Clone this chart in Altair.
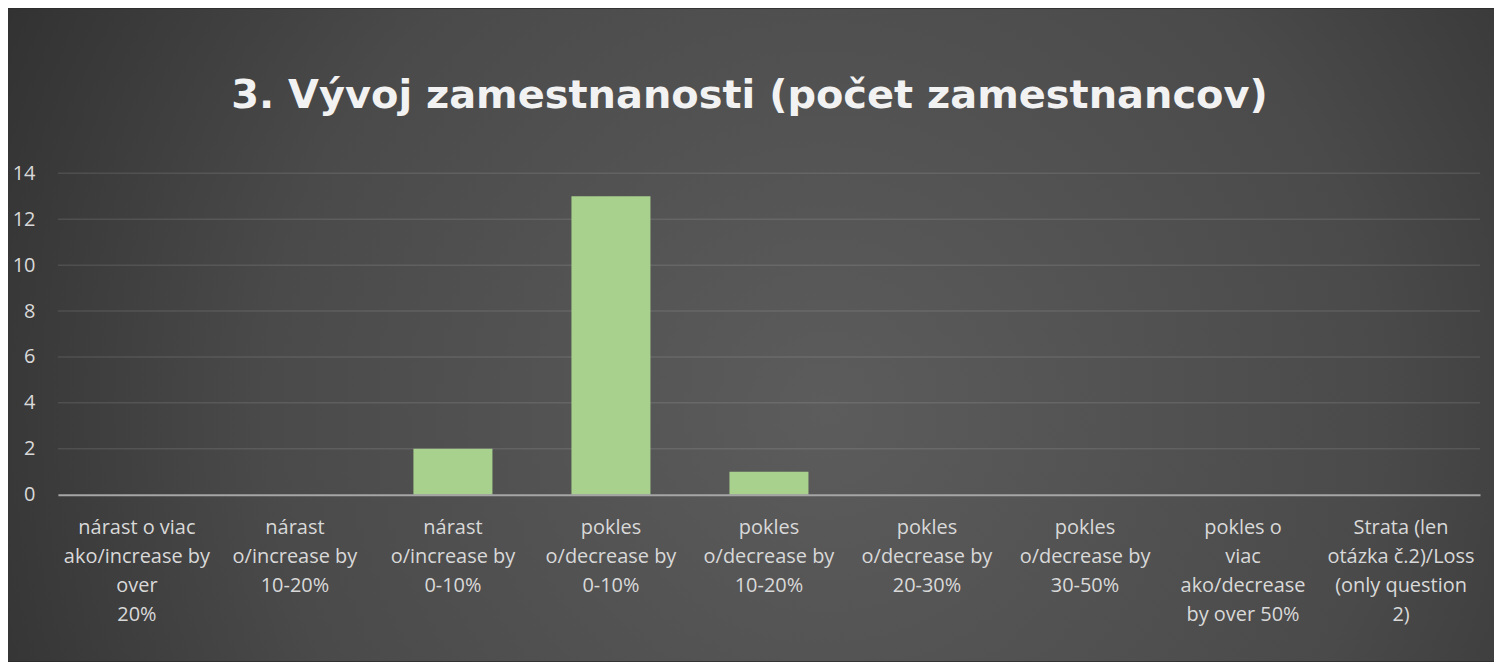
import altair as alt
import pandas as pd

categories = [
    "nárast o viac\nako/increase by\nover\n20%",
    "nárast\no/increase by\n10-20%",
    "nárast\no/increase by\n0-10%",
    "pokles\no/decrease by\n0-10%",
    "pokles\no/decrease by\n10-20%",
    "pokles\no/decrease by\n20-30%",
    "pokles\no/decrease by\n30-50%",
    "pokles o\nviac\nako/decrease\nby over 50%",
    "Strata (len\notázka č.2)/Loss\n(only question\n2)",
]
values = [0, 0, 2, 13, 1, 0, 0, 0, 0]
grid_values = [2, 4, 6, 8, 10, 12, 14]
title_text = "3. Vývoj zamestnanosti (počet zamestnancov)"

W, H = 1425, 322
PL, PT, PR, PB = 50, 165, 14, 167

bars_df = pd.DataFrame({"category": categories, "value": values})
grid_df = pd.DataFrame({"value": grid_values})
bg_df = pd.DataFrame({"bg": [0]})
title_df = pd.DataFrame({"t": [title_text]})

y_scale = alt.Scale(domain=[0, 14])

background = alt.Chart(bg_df).mark_rect(
    fill={
        "gradient": "radial",
        "x1": 0.55, "y1": 0.55, "r1": 0,
        "x2": 0.55, "y2": 0.55, "r2": 0.75,
        "stops": [
            {"offset": 0, "color": "#5c5c5c"},
            {"offset": 0.5, "color": "#4a4a4a"},
            {"offset": 1, "color": "#242424"},
        ],
    }
).encode(
    x=alt.value(-PL), x2=alt.value(W + PR),
    y=alt.value(-PT), y2=alt.value(H + PB),
)

title = alt.Chart(title_df).mark_text(
    font="DejaVu Sans",
    fontSize=40,
    fontWeight="bold",
    color="#f2f2f2",
    align="center",
    baseline="alphabetic",
).encode(
    text="t:N",
    x=alt.value(693),
    y=alt.value(-65),
)

grid = alt.Chart(grid_df).mark_rule(color="#ffffff", opacity=0.1, strokeWidth=1.5).encode(
    y=alt.Y("value:Q", scale=y_scale)
)

bars = alt.Chart(bars_df).mark_bar(color="#a9d18e").encode(
    x=alt.X(
        "category:N",
        sort=categories,
        scale=alt.Scale(paddingInner=0.5, paddingOuter=0.25),
        axis=alt.Axis(
            title=None,
            labelAngle=0,
            labelExpr="split(datum.label, '\\n')",
            labelFont="Open Sans",
            labelFontSize=20,
            labelLineHeight=29,
            labelColor="#d9d9d9",
            labelPadding=23,
            labelLimit=0,
            ticks=False,
            domainColor="#a6a6a6",
            domainWidth=2,
            zindex=1,
        ),
    ),
    y=alt.Y(
        "value:Q",
        scale=y_scale,
        axis=alt.Axis(
            title=None,
            values=[0, 2, 4, 6, 8, 10, 12, 14],
            grid=False,
            domain=False,
            ticks=False,
            labelFont="Open Sans",
            labelFontSize=20,
            labelColor="#d9d9d9",
            labelPadding=23,
            zindex=1,
        ),
    ),
)

chart = alt.layer(background, title, grid, bars).properties(
    width=W,
    height=H,
    padding={"left": PL, "top": PT, "right": PR, "bottom": PB},
    autosize=alt.AutoSizeParams(type="none"),
).configure(background="#2a2a2a").configure_view(stroke=None)

chart.save("out.html", embed_options={"renderer": "svg", "actions": False})
